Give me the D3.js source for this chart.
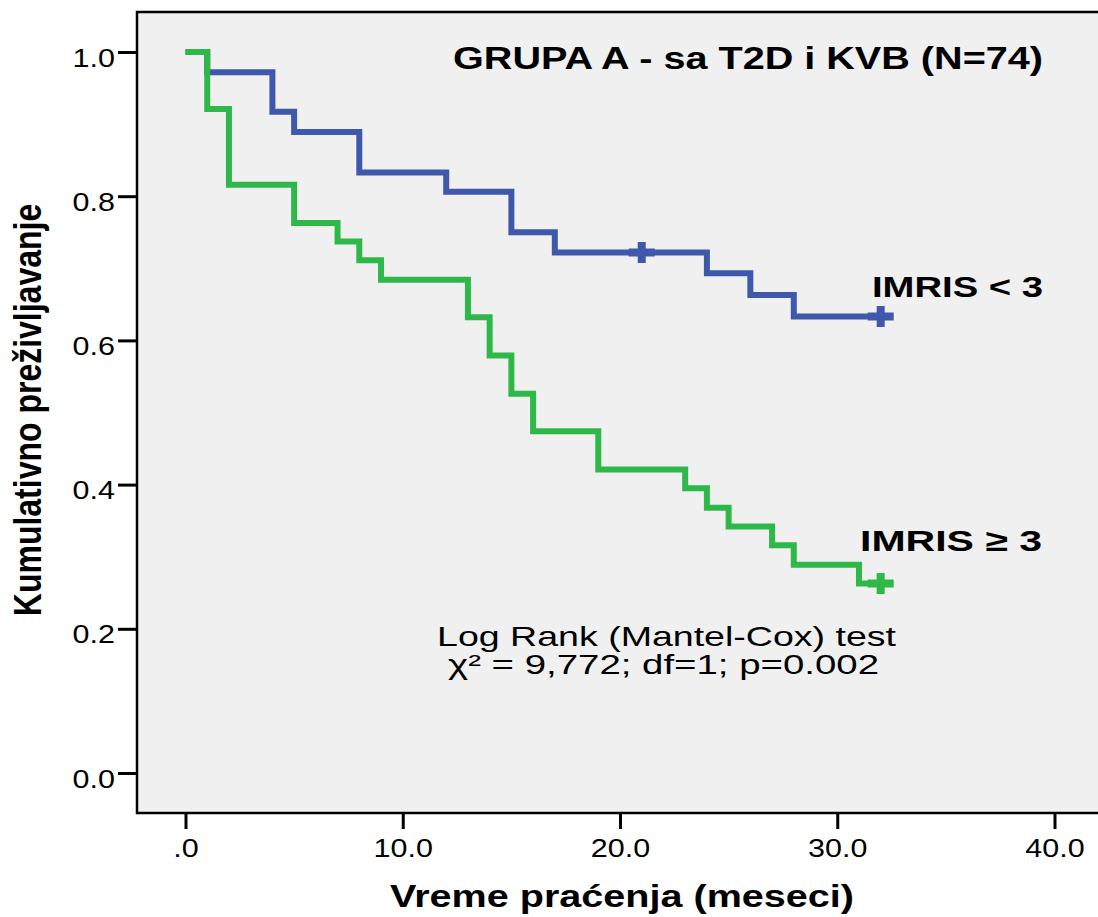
<!DOCTYPE html>
<html>
<head>
<meta charset="utf-8">
<script src="https://cdn.jsdelivr.net/npm/d3@7"></script>
<style>
  body { margin: 0; background: #fff; }
  svg { display: block; font-family: Arial, "Liberation Sans", sans-serif; }
</style>
</head>
<body>
<svg width="1098" height="917"></svg>
<script>
// Kaplan-Meier steps
var blueTimes = [0, 1, 4, 5, 8, 12, 15, 17, 24, 26, 28, 32];
var blueSurv = [1, 0.972, 0.917, 0.889, 0.833, 0.806, 0.75, 0.722, 0.693, 0.663, 0.633, 0.633];
var blueCensorTimes = [21, 32];
var blueCensorSurv = [0.722, 0.633];

var greenTimes = [0, 1, 2, 5, 7, 8, 9, 13, 14, 15, 16, 19, 23, 24, 25, 27, 28, 31, 32];
var greenSurv = [1, 0.921, 0.816, 0.763, 0.737, 0.711, 0.684, 0.632, 0.579, 0.526, 0.474, 0.421, 0.395, 0.368, 0.342, 0.316, 0.289, 0.263, 0.263];
var greenCensorTimes = [32];
var greenCensorSurv = [0.263];

var xTicks = [0, 10, 20, 30, 40];
var yTicks = [0, 0.2, 0.4, 0.6, 0.8, 1.0];

var blue = '#3e58ac',
  green = '#2eb848';

var svg = d3.select('svg');

var frame = { left: 137, top: 12, bottom: 813 };

var x = d3.scaleLinear().domain([0, 40]).range([185.5, 1054.5]);
var y = d3.scaleLinear().domain([0, 1]).range([773, 52]);

// plot background (runs off the right edge like the original)
svg
  .append('rect')
  .attr('x', frame.left)
  .attr('y', frame.top)
  .attr('width', 1200)
  .attr('height', frame.bottom - frame.top)
  .attr('fill', '#f0f0f0')
  .attr('stroke', '#000')
  .attr('stroke-width', 2.5);

// axes
var yAxis = svg
  .append('g')
  .attr('transform', 'translate(' + frame.left + ',0)')
  .call(d3.axisLeft(y).tickValues(yTicks).tickSize(19).tickFormat(d3.format('.1f')));
yAxis.select('.domain').remove();
yAxis.selectAll('line').attr('stroke', '#000').attr('stroke-width', 3);
yAxis
  .selectAll('text')
  .attr('x', 0)
  .attr('dy', 0)
  .attr('transform', 'translate(-22,14) scale(1.22,1)')
  .attr('font-size', 25)
  .attr('font-family', 'Arial, "Liberation Sans", sans-serif')
  .attr('fill', '#000');

var xAxis = svg
  .append('g')
  .attr('transform', 'translate(0,' + (frame.bottom + 1) + ')')
  .call(
    d3
      .axisBottom(x)
      .tickValues(xTicks)
      .tickSize(15)
      .tickFormat(function (d) {
        return d === 0 ? '.0' : d.toFixed(1);
      })
  );
xAxis.select('.domain').remove();
xAxis.selectAll('line').attr('stroke', '#000').attr('stroke-width', 3);
xAxis
  .selectAll('text')
  .attr('y', 0)
  .attr('dy', 0)
  .attr('transform', 'translate(0,43) scale(1.22,1)')
  .attr('font-size', 25)
  .attr('font-family', 'Arial, "Liberation Sans", sans-serif')
  .attr('fill', '#000');

// survival curves
var line = d3
  .line()
  .x(function (d) { return x(d[0]); })
  .y(function (d) { return y(d[1]); })
  .curve(d3.curveStepAfter);

function drawCurve(times, surv, cTimes, cSurv, color) {
  var pts = times.map(function (t, i) { return [t, surv[i]]; });
  svg
    .append('path')
    .datum(pts)
    .attr('d', line)
    .attr('fill', 'none')
    .attr('stroke', color)
    .attr('stroke-width', 6)
    .attr('stroke-linejoin', 'miter');

  svg
    .append('g')
    .selectAll('path')
    .data(cTimes.map(function (t, i) { return [t, cSurv[i]]; }))
    .enter()
    .append('path')
    .attr('transform', function (d) { return 'translate(' + x(d[0]) + ',' + y(d[1]) + ')'; })
    .attr('d', 'M-13,0H13M0,-10.5V10.5')
    .attr('stroke', color)
    .attr('stroke-width', 8)
    .attr('fill', 'none');
}

drawCurve(blueTimes, blueSurv, blueCensorTimes, blueCensorSurv, blue);
drawCurve(greenTimes, greenSurv, greenCensorTimes, greenCensorSurv, green);

// texts
function addText(str, x0, y0, width, size, weight) {
  return svg
    .append('text')
    .attr('x', x0)
    .attr('y', y0)
    .attr('font-size', size)
    .attr('font-weight', weight)
    .attr('textLength', width)
    .attr('lengthAdjust', 'spacingAndGlyphs')
    .text(str);
}

addText('GRUPA A - sa T2D i KVB (N=74)', 453, 69, 590, 31, 'bold');
addText('IMRIS < 3', 872, 297, 171, 30, 'bold');
addText('IMRIS \u2265  3', 860, 551, 182, 30, 'bold');
addText('Log Rank (Mantel-Cox) test', 437, 646, 459, 27.5, 'normal');
addText('\u03c7\u00b2 = 9,772; df=1; p=0.002', 448, 674, 431, 27.5, 'normal');
addText('Vreme pra\u0107enja (meseci)', 390, 907, 464, 32, 'bold');

svg
  .append('text')
  .attr('transform', 'translate(41,410) scale(1.2,1) rotate(-90)')
  .attr('text-anchor', 'middle')
  .attr('font-size', 32)
  .attr('font-weight', 'bold')
  .text('Kumulativno pre\u017eivljavanje');
</script>
</body>
</html>
